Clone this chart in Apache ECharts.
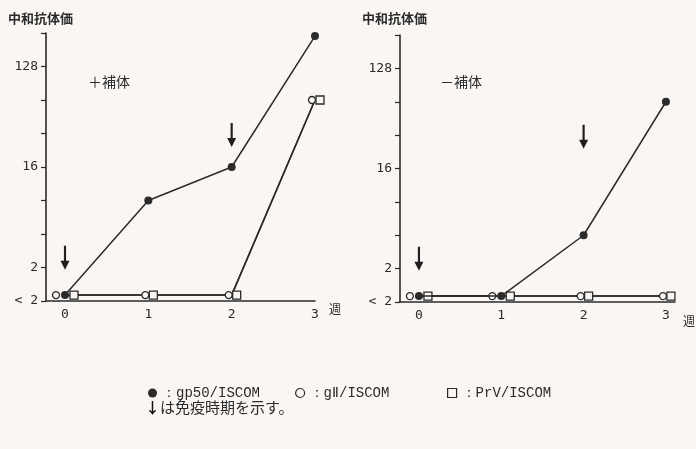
<!DOCTYPE html>
<html>
<head>
<meta charset="utf-8">
<script src="https://cdn.jsdelivr.net/npm/echarts@6/dist/echarts.min.js"></script>
<style>
  html, body { margin: 0; padding: 0; background: #f9f6f4; }
  #chart { width: 696px; height: 449px; }
</style>
</head>
<body>
<div id="chart"></div>
<script>
// Neutralising antibody titre per week after ISCOM immunisation,
// measured with (＋) and without (－) complement.
const weeks = [0, 1, 2, 3];
const LT2 = 1.13;                 // plotting level for titres below 2
const seriesNames = ['gp50/ISCOM', 'gⅡ/ISCOM', 'PrV/ISCOM'];

const plusGp50  = [LT2, 8, 16, 240];
const plusGII   = [LT2, LT2, LT2, 64];
const plusPrV   = [LT2, LT2, LT2, 64];

const minusGp50 = [LT2, LT2, 4, 64];
const minusGII  = [LT2, LT2, LT2, LT2];
const minusPrV  = [LT2, LT2, LT2, LT2];

const immunWeeks = [0, 2];        // immunisation times (arrows)
const yTickValues = [1, 2, 16, 128];
const yTickText   = ['< 2', '2', '16', '128'];
const panelTitles = ['＋補体', '－補体'];

const BG = '#f9f6f4';
const INK = '#2b2b2b';
const MONO = '"DejaVu Sans Mono", monospace';
const CJK = '"Noto Sans CJK JP", sans-serif';
const ARROW = 'path://M3.8,0 L6.2,0 L6.2,15 L10,15 L5,24 L0,15 L3.8,15 Z';

const panels = [
  { grid: { left: 46, top: 33, width: 269, height: 268 }, xMin: -0.228, xMax: 3,
    values: [plusGp50, plusGII, plusPrV] },
  { grid: { left: 400, top: 35, width: 275, height: 267 }, xMin: -0.23, xMax: 3.11,
    values: [minusGp50, minusGII, minusPrV] }
];

function yLabel(v) {
  const i = yTickValues.indexOf(Math.round(v));
  return i >= 0 ? yTickText[i] : '';
}

const hollow = { color: BG, borderColor: INK, borderWidth: 1.3 };
const line = { color: INK, width: 1.5 };
const series = [];
panels.forEach((p, gi) => {
  const [gp50, gII, prv] = p.values;
  // filled circles
  series.push({
    type: 'line', name: seriesNames[0], xAxisIndex: gi, yAxisIndex: gi,
    data: weeks.map((w, i) => [w, gp50[i]]),
    symbol: 'circle', symbolSize: 8,
    itemStyle: { color: INK },
    lineStyle: line,
    z: 3,
    markPoint: {
      symbol: ARROW, symbolSize: [9, 24], silent: true,
      itemStyle: { color: '#1f1f1f' }, label: { show: false },
      data: immunWeeks.map(w => ({ coord: [w, w === 0 ? 2.45 : 31] }))
    }
  });
  // open circles, shifted left of the week
  series.push({
    type: 'line', name: seriesNames[1], xAxisIndex: gi, yAxisIndex: gi,
    data: weeks.map((w, i) => ({
      value: [w, gII[i]],
      symbolOffset: [gp50[i] === LT2 ? -9 : -3, 0]
    })),
    symbol: 'circle', symbolSize: 7,
    itemStyle: hollow,
    lineStyle: line,
    z: 2
  });
  // open squares, shifted right of the week
  series.push({
    type: 'line', name: seriesNames[2], xAxisIndex: gi, yAxisIndex: gi,
    data: weeks.map((w, i) => ({
      value: [w, prv[i]],
      symbolOffset: [gp50[i] === LT2 ? 9 : 5, 0]
    })),
    symbol: 'rect', symbolSize: 8,
    itemStyle: hollow,
    lineStyle: line,
    z: 2
  });
});

// one legend entry per symbol key, laid out along a single row
const legendIcons = ['circle', 'circle', 'rect'];
const legendLeft = [143, 290, 442];
const legends = seriesNames.map((name, i) => ({
  left: legendLeft[i], top: 381,
  itemWidth: 9, itemHeight: 9,
  data: [{ name: name, icon: legendIcons[i] }],
  formatter: n => '：' + n,
  itemStyle: { borderWidth: 1.2 },
  textStyle: { fontFamily: '"Liberation Mono", monospace', fontSize: 14, color: INK },
  selectedMode: false
}));

const chart = echarts.init(document.getElementById('chart'), null, { renderer: 'canvas' });
chart.setOption({
  animation: false,
  backgroundColor: BG,
  grid: panels.map(p => p.grid),
  xAxis: panels.map((p, gi) => ({
    type: 'value', gridIndex: gi, min: p.xMin, max: p.xMax,
    axisLine: { lineStyle: { color: INK, width: 1.6 } },
    axisTick: { show: false },
    splitLine: { show: false },
    axisLabel: {
      customValues: weeks, margin: 7,
      fontFamily: MONO, fontSize: 13, color: INK
    }
  })),
  yAxis: panels.map((p, gi) => ({
    type: 'log', logBase: 2, gridIndex: gi, min: 1, max: 256,
    axisLine: { show: true, onZero: false, lineStyle: { color: INK, width: 1.6 } },
    axisTick: { show: true, length: 5, lineStyle: { color: INK, width: 1.2 } },
    splitLine: { show: false },
    axisLabel: {
      formatter: yLabel, margin: 8,
      fontFamily: MONO, fontSize: 13, color: INK
    }
  })),
  legend: legends,
  graphic: [
    { type: 'text', left: 8, top: 12,
      style: { text: '中和抗体価', fontFamily: CJK, fontSize: 13, fontWeight: 'bold', fill: INK } },
    { type: 'text', left: 362, top: 12,
      style: { text: '中和抗体価', fontFamily: CJK, fontSize: 13, fontWeight: 'bold', fill: INK } },
    { type: 'text', left: 88, top: 75,
      style: { text: panelTitles[0], fontFamily: CJK, fontSize: 14, fill: INK } },
    { type: 'text', left: 440, top: 75,
      style: { text: panelTitles[1], fontFamily: CJK, fontSize: 14, fill: INK } },
    { type: 'text', left: 329, top: 303,
      style: { text: '週', fontFamily: CJK, fontSize: 12, fill: INK } },
    { type: 'text', left: 683, top: 315,
      style: { text: '週', fontFamily: CJK, fontSize: 12, fill: INK } },
    { type: 'text', left: 145, top: 400,
      style: {
        text: '{a|↓}は免疫時期を示す。',
        fontFamily: CJK, fontSize: 15, fill: INK,
        rich: { a: { fontFamily: CJK, fontSize: 15, fontWeight: 'bold', fill: '#111' } }
      } }
  ],
  series: series
});
</script>
</body>
</html>
